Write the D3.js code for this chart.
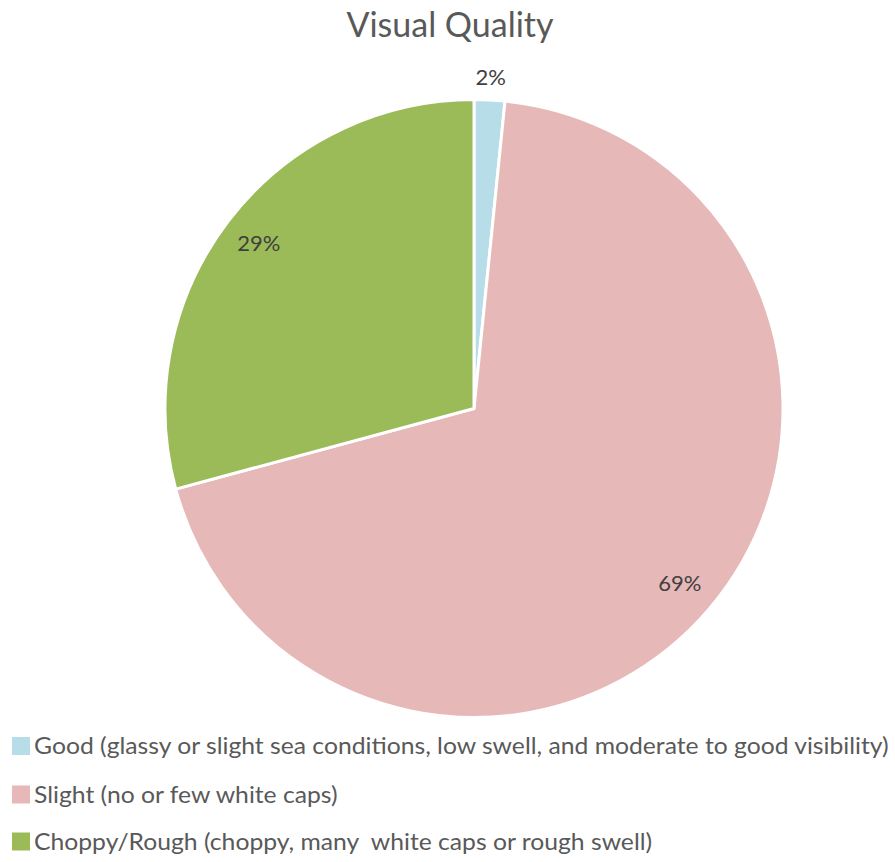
<!DOCTYPE html>
<html><head><meta charset="utf-8">
<script src="https://cdn.jsdelivr.net/npm/d3@7"></script>
<style>body{margin:0;background:#fff}svg{display:block}text{white-space:pre}</style>
</head><body>
<svg id="c" width="895" height="862"></svg>
<script>
const categories = ["Good (glassy or slight sea conditions, low swell, and moderate to good visibility)",
  "Slight (no or few white caps)",
  "Choppy/Rough (choppy, many  white caps or rough swell)"];
const values = [1.6, 69.2, 29.2];
const labels = ["2%", "69%", "29%"];
const colors = ["#b7dde8", "#e6b9b8", "#9bbb59"];
const title = "Visual Quality";

const svg = d3.select("#c");
const font = "Lato, 'Open Sans', sans-serif";
const cx = 474, cy = 408.5, R = 309;

svg.append("text").attr("x", 450).attr("y", 37).attr("text-anchor", "middle")
  .attr("font-family", font).attr("font-size", 34).attr("fill", "#595959").text(title);

const pie = d3.pie().sort(null).value(d => d)(values);
const arc = d3.arc().innerRadius(0).outerRadius(R);
const g = svg.append("g").attr("transform", `translate(${cx},${cy})`);
g.selectAll("path").data(pie).enter().append("path")
  .attr("d", arc).attr("fill", (d, i) => colors[i])
  .attr("stroke", "#fff").attr("stroke-width", 3).attr("stroke-linejoin", "round");

const lblR = [332, 270, 271];
g.selectAll("text.l").data(pie).enter().append("text")
  .attr("class", "l")
  .attr("transform", (d, i) => {
    const c = d3.arc().innerRadius(lblR[i]).outerRadius(lblR[i]).centroid(d);
    return `translate(${c[0]},${c[1]})`;
  })
  .attr("dy", "0.35em").attr("text-anchor", "middle")
  .attr("font-family", font).attr("font-size", 22).attr("fill", "#404040")
  .text((d, i) => labels[i]);

const lg = svg.append("g");
const rowY = [746, 794.5, 841.5];
categories.forEach((c, i) => {
  lg.append("rect").attr("x", 12).attr("y", rowY[i] - 9).attr("width", 18).attr("height", 18).attr("fill", colors[i]);
  lg.append("text").attr("x", 34).attr("y", rowY[i]).attr("dy", "0.35em")
    .attr("font-family", font).attr("font-size", 24).attr("fill", "#595959").text(c);
});
// fit legend text width to the reference's narrow face
const t0 = lg.selectAll("text").nodes()[0];
const scale = 855 / t0.getComputedTextLength();
lg.selectAll("text")
  .attr("transform", `translate(34,0) scale(${scale},1) translate(-34,0)`);
</script>
</body></html>
